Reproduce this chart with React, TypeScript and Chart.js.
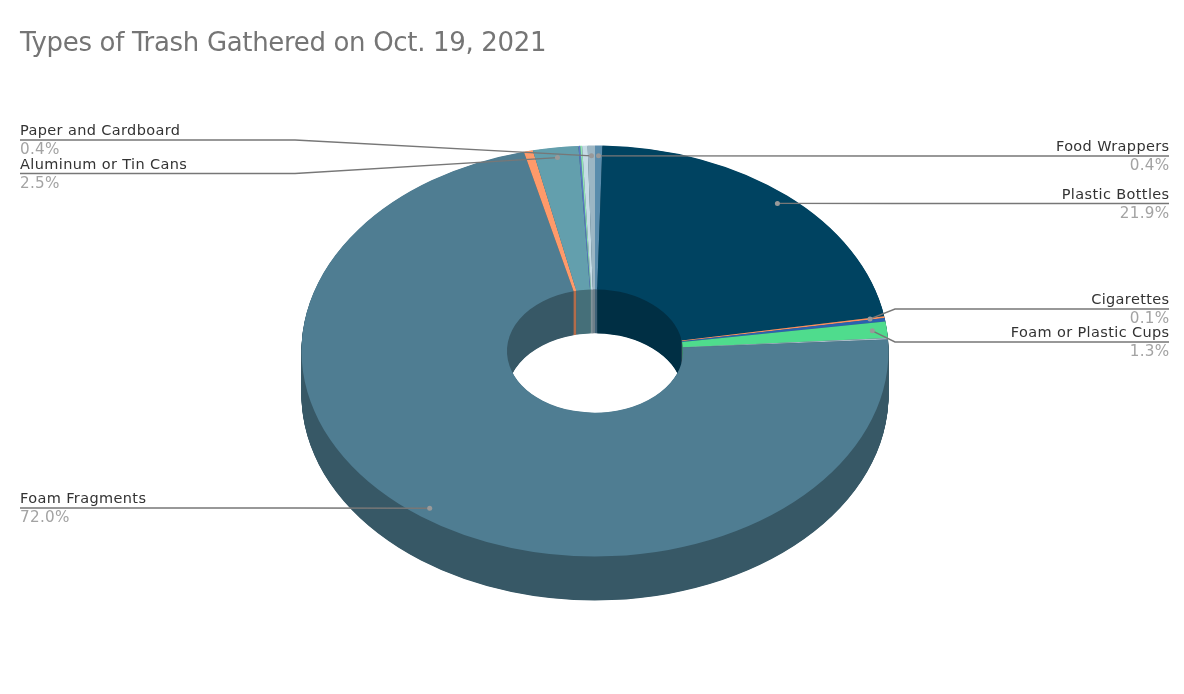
import React, { useEffect, useRef } from "react";
import { Chart, registerables } from "chart.js";

Chart.register(...registerables);

const TITLE = "Types of Trash Gathered on Oct. 19, 2021";
const categories = [
  "Food Wrappers", "Plastic Bottles", "Cigarettes", "Glass Bottles", "Foam or Plastic Cups", "Straws",
  "Foam Fragments", "Plastic Bags", "Aluminum or Tin Cans", "Fishing Line", "Rope", "Clothing", "Paper and Cardboard",
];
const shares = [0.4, 21.9, 0.14, 0.26, 1.3, 0.1, 72.0, 0.5, 2.5, 0.1, 0.1, 0.3, 0.4];
const topColors = [
  "#5a8cac", "#004361", "#ff8f5c", "#2a62b0", "#4fdc8d", "#a9bcc8",
  "#4f7d92", "#ff9a6a", "#639fad", "#5a78c8", "#8fe6b0", "#c5dbe5", "#9cb6c4",
];
const labelledLeft = ["Paper and Cardboard", "Aluminum or Tin Cans", "Foam Fragments"];
const labelledRight = ["Food Wrappers", "Plastic Bottles", "Cigarettes", "Foam or Plastic Cups"];
const rowY: Record<string, number> = {
  "Paper and Cardboard": 140,
  "Aluminum or Tin Cans": 173.5,
  "Foam Fragments": 508,
  "Food Wrappers": 156,
  "Plastic Bottles": 203.5,
  "Cigarettes": 309,
  "Foam or Plastic Cups": 342,
};

const CENTER_Y = 351;
const SQUASH = 0.7;
const DEPTH = 44;
const SHADE = 0.7;
const FONT = '"DejaVu Sans", sans-serif';
const OUTER_WALL_SLICE = "Foam Fragments";

function darken(hex: string) {
  const n = parseInt(hex.slice(1), 16);
  const c = (v: number) => Math.round(v * SHADE);
  return `rgb(${c((n >> 16) & 255)},${c((n >> 8) & 255)},${c(n & 255)})`;
}

function applyTilt(ctx: CanvasRenderingContext2D, dy: number) {
  ctx.translate(0, CENTER_Y + dy);
  ctx.scale(1, SQUASH);
  ctx.translate(0, -CENTER_Y);
}

const tiltedDonut = {
  id: "tiltedDonut",
  beforeDatasetsDraw(chart: any) {
    const ctx = chart.ctx as CanvasRenderingContext2D;
    const arcs = chart.getDatasetMeta(0).data;

    // Silhouette of the solid: rings stacked under the top face.
    ctx.save();
    for (let dy = DEPTH; dy > 0; dy -= 0.5) {
      ctx.save();
      applyTilt(ctx, dy);
      arcs.forEach((arc: any, i: number) => {
        const prev = arc.options.backgroundColor;
        arc.options.backgroundColor = darken(topColors[i]);
        arc.draw(ctx);
        arc.options.backgroundColor = prev;
      });
      ctx.restore();
    }

    // Repaint flat so the many overlapping edges leave no streaks.
    ctx.globalCompositeOperation = "source-atop";
    ctx.fillStyle = darken(topColors[categories.indexOf(OUTER_WALL_SLICE)]);
    ctx.fillRect(0, 0, chart.width, chart.height);
    const ri = arcs[0].innerRadius;
    const cx = arcs[0].x;
    const top = CENTER_Y - ri * SQUASH - 2;
    const height = ri * SQUASH + DEPTH + 4;
    const backHalf = [[-Math.PI / 2, 0], [Math.PI, (3 * Math.PI) / 2]];
    arcs.forEach((arc: any, i: number) => {
      ctx.fillStyle = darken(topColors[i]);
      backHalf.forEach(([lo, hi]) => {
        const a = Math.max(lo, arc.startAngle);
        const b = Math.min(hi, arc.endAngle);
        if (b <= a) return;
        const x0 = cx + ri * Math.cos(a);
        const x1 = cx + ri * Math.cos(b);
        ctx.fillRect(Math.min(x0, x1), top, Math.abs(x1 - x0), height);
      });
    });
    ctx.restore();

    ctx.save();
    applyTilt(ctx, 0);
  },
  afterDatasetsDraw(chart: any) {
    chart.ctx.restore();
  },
};

const callouts = {
  id: "callouts",
  afterDraw(chart: any) {
    const ctx = chart.ctx as any;
    const arcs = chart.getDatasetMeta(0).data;
    const total = shares.reduce((a, b) => a + b, 0);

    ctx.save();
    ctx.textBaseline = "alphabetic";
    ctx.font = `26px ${FONT}`;
    ctx.letterSpacing = "-0.33px";
    ctx.fillStyle = "#757575";
    ctx.textAlign = "left";
    ctx.fillText(TITLE, 20, 51);
    ctx.letterSpacing = "0px";

    const drawOne = (name: string, left: boolean) => {
      const i = categories.indexOf(name);
      const arc = arcs[i];
      const mid = (arc.startAngle + arc.endAngle) / 2;
      const r = arc.outerRadius * 0.95;
      const px = arc.x + Math.cos(mid) * r;
      const py = CENTER_Y + Math.sin(mid) * r * SQUASH;
      const y = rowY[name];
      const edgeX = left ? 20 : 1169;
      const elbowX = left ? 295 : 895;

      ctx.strokeStyle = "#777777";
      ctx.lineWidth = 1.4;
      ctx.beginPath();
      ctx.moveTo(edgeX, y);
      ctx.lineTo(elbowX, y);
      ctx.lineTo(px, py);
      ctx.stroke();

      ctx.fillStyle = "#999999";
      ctx.beginPath();
      ctx.arc(px, py, 2.5, 0, Math.PI * 2);
      ctx.fill();

      ctx.textAlign = left ? "left" : "right";
      const textX = left ? edgeX : edgeX + 0.5;
      ctx.font = `14.5px ${FONT}`;
      ctx.letterSpacing = "0.37px";
      ctx.fillStyle = "#333333";
      ctx.fillText(name, textX, y - 5);
      ctx.font = `15.2px ${FONT}`;
      ctx.letterSpacing = "0.3px";
      ctx.fillStyle = "#a3a3a3";
      ctx.fillText(((shares[i] / total) * 100).toFixed(1) + "%", textX, y + 14);
      ctx.letterSpacing = "0px";
    };
    labelledLeft.forEach((n) => drawOne(n, true));
    labelledRight.forEach((n) => drawOne(n, false));
    ctx.restore();
  },
};

export default function App() {
  const ref = useRef<HTMLCanvasElement>(null);
  useEffect(() => {
    const chart = new Chart(ref.current!, {
      type: "doughnut",
      data: {
        labels: categories,
        datasets: [{ data: shares, backgroundColor: topColors, borderWidth: 0 }],
      },
      options: {
        animation: false,
        responsive: false,
        cutout: "30%",
        layout: { padding: { left: 301.5, right: 295.5, top: 57.5, bottom: 49.5 } },
        plugins: { legend: { display: false }, tooltip: { enabled: false }, title: { display: false } },
      },
      plugins: [tiltedDonut, callouts],
    } as any);
    return () => chart.destroy();
  }, []);
  return (
    <div style={{ position: "absolute", left: 0, top: 0, width: 1184, height: 694, background: "#fff" }}>
      <canvas ref={ref} width={1184} height={694} style={{ display: "block" }} />
    </div>
  );
}
